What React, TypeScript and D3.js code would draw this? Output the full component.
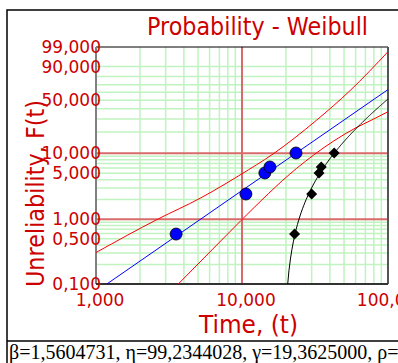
import React from "react";
import * as d3 from "d3";

// fitted Weibull parameters (3-parameter)
const beta = 1.5604731;
const eta = 99.2344028;
const gamma = 19.3625;

// failure times (t) and their unreliability (%)
const failureTimes = [22.9, 30.0, 33.7, 34.9, 42.8];
const unreliabilityPct = [0.59, 2.43, 5.07, 6.23, 10.05];

// confidence bounds (adjusted time t - gamma, %)
const upperX = [1.0, 2.67, 5.16, 9.69, 16.3, 32.5, 54.9, 100];
const upperF = [0.306, 1.01, 2.09, 4.73, 9.71, 29.0, 62.2, 97.97];
const lowerX = [3.66, 7.26, 9.84, 23.7, 31.6, 59.4, 77.3, 100];
const lowerF = [0.1, 0.478, 0.954, 5.96, 9.71, 22.5, 29.0, 36.9];

// axes
const xTicks = [1, 10, 100];
const xMinor = [2, 3, 4, 5, 6, 7, 8, 9, 20, 30, 40, 50, 60, 70, 80, 90];
const yTicks = [0.1, 0.5, 1, 5, 10, 50, 90, 99];
const yMajor = [1, 10];
const yMinor = [0.2, 0.3, 0.4, 0.5, 0.6, 0.7, 0.8, 0.9, 2, 3, 4, 5, 6, 7, 8, 9, 20, 30, 40, 50, 60, 70, 80, 90];

const W = 398, H = 363;
const m = { left: 96, right: 388, top: 47, bottom: 284 };
const red = "#cc0000";

const wb = (p: number) => Math.log(-Math.log(1 - p / 100));
const x = d3.scaleLog().domain([1, 100]).range([m.left, m.right]);
const yl = d3.scaleLinear().domain([wb(0.1), wb(99)]).range([m.bottom, m.top]);
const y = (p: number) => yl(wb(p));
const fmt = (v: number) => d3.format(".3f")(v).replace(".", ",");

const modelF = (a: number) => 100 * (1 - Math.exp(-Math.pow(a / eta, beta)));

export default function App() {
  const line = d3.line<[number, number]>().x(d => x(d[0])).y(d => y(d[1]));
  const smooth = d3.line<[number, number]>().x(d => x(d[0])).y(d => y(d[1])).curve(d3.curveMonotoneX);

  const fitPts: [number, number][] = [1.0, 100].map(a => [a, modelF(a)]);
  const rawPts: [number, number][] = d3.range(gamma + 1.1, 101, 0.5).map(t => [t, modelF(t - gamma)]);
  const upPts = upperX.map((v, i) => [v, upperF[i]] as [number, number]);
  const loPts = lowerX.map((v, i) => [v, lowerF[i]] as [number, number]);

  return (
    <svg width={W} height={H} style={{ position: "absolute", left: 0, top: 0, background: "#fff" }}
      fontFamily="DejaVu Sans">
      <defs>
        <clipPath id="plotclip">
          <rect x={m.left} y={m.top} width={m.right - m.left} height={m.bottom - m.top} />
        </clipPath>
      </defs>
      <rect x={7} y={10} width={W} height={H} fill="none" stroke="#000" strokeWidth={1.5} />
      <line x1={7} x2={W} y1={341} y2={341} stroke="#000" strokeWidth={1.5} />

      <text x={257.5} y={35} fill={red} fontSize={24} textAnchor="middle" textLength={221} lengthAdjust="spacingAndGlyphs">
        Probability - Weibull
      </text>

      {/* grid */}
      {xMinor.map(v => (
        <line key={"xm" + v} x1={x(v)} x2={x(v)} y1={m.top} y2={m.bottom} stroke="#bff3bf" strokeWidth={1.5} />
      ))}
      {yMinor.map(v => (
        <line key={"ym" + v} x1={m.left} x2={m.right} y1={y(v)} y2={y(v)} stroke="#bff3bf" strokeWidth={1.5} />
      ))}
      {yMajor.map(v => (
        <line key={"yM" + v} x1={m.left} x2={m.right} y1={y(v)} y2={y(v)} stroke="#d86a6a" strokeWidth={2} />
      ))}
      <line x1={x(10)} x2={x(10)} y1={m.top} y2={m.bottom} stroke="#d86a6a" strokeWidth={2} />

      {/* frame */}
      <line x1={m.left} x2={m.right} y1={m.top} y2={m.top} stroke="#000" strokeWidth={1} />
      <line x1={m.right} x2={m.right} y1={m.top} y2={m.bottom} stroke="#555" strokeWidth={2} />
      <line x1={m.left} x2={m.left} y1={m.top} y2={m.bottom} stroke="#808080" strokeWidth={2} />
      <line x1={m.left} x2={m.right} y1={m.bottom} y2={m.bottom} stroke="#333" strokeWidth={2} />

      <g clipPath="url(#plotclip)" fill="none">
        <path d={smooth(upPts) || ""} stroke="#ff0000" strokeWidth={1} />
        <path d={smooth(loPts) || ""} stroke="#ff0000" strokeWidth={1} />
        <path d={line(fitPts) || ""} stroke="#0000ff" strokeWidth={1} />
        <path d={line(rawPts) || ""} stroke="#000" strokeWidth={1} />
      </g>

      {failureTimes.map((t, i) => (
        <circle key={"b" + i} cx={x(t - gamma)} cy={y(unreliabilityPct[i])} r={6} fill="#0000ff" stroke="#000" strokeWidth={0.8} />
      ))}
      {failureTimes.map((t, i) => {
        const cx = x(t), cy = y(unreliabilityPct[i]), s = 5.5;
        return <path key={"k" + i} d={`M${cx},${cy - s}L${cx + s},${cy}L${cx},${cy + s}L${cx - s},${cy}Z`} fill="#000" />;
      })}

      {/* tick labels */}
      {yTicks.map(v => (
        <text key={"yt" + v} x={101} y={y(v)} dy="0.36em" fill={red} fontSize={17} textAnchor="end">{fmt(v)}</text>
      ))}
      {xTicks.map(v => (
        <text key={"xt" + v} x={x(v) + 4} y={306} fill={red} fontSize={17} textAnchor="middle">{fmt(v)}</text>
      ))}

      <text x={248.5} y={333} fill={red} fontSize={24} textAnchor="middle" textLength={99} lengthAdjust="spacingAndGlyphs">
        Time, (t)
      </text>
      <text transform="translate(43.5,287) rotate(-90)" fill={red} fontSize={25} textLength={187} lengthAdjust="spacingAndGlyphs">
        Unreliability, F(t)
      </text>

      <text x={9} y={359} fontFamily="Liberation Serif" fontSize={20} fill="#000">
        β=1,5604731, η=99,2344028, γ=19,3625000, ρ=
      </text>
    </svg>
  );
}
